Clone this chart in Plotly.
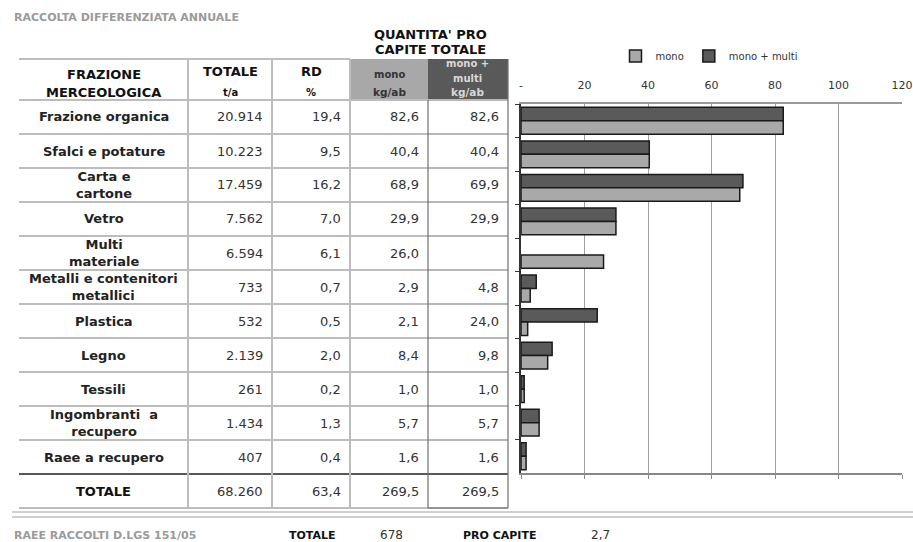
import plotly.graph_objects as go

W, H = 913, 542

# ---- data -------------------------------------------------------------
categories = ["Frazione organica", "Sfalci e potature", "Carta e<br>cartone", "Vetro",
              "Multi<br>materiale", "Metalli e contenitori<br>metallici", "Plastica",
              "Legno", "Tessili", "Ingombranti  a<br>recupero", "Raee a recupero"]
totale_t = [20914, 10223, 17459, 7562, 6594, 733, 532, 2139, 261, 1434, 407]
rd_pct = [19.4, 9.5, 16.2, 7.0, 6.1, 0.7, 0.5, 2.0, 0.2, 1.3, 0.4]
mono = [82.6, 40.4, 68.9, 29.9, 26.0, 2.9, 2.1, 8.4, 1.0, 5.7, 1.6]
mono_multi = [82.6, 40.4, 69.9, 29.9, None, 4.8, 24.0, 9.8, 1.0, 5.7, 1.6]
total_t_a = 68260
total_rd = 63.4
total_mono = 269.5
total_mono_multi = 269.5
x_ticks = [0, 20, 40, 60, 80, 100, 120]
x_tick_text = ["-", "20", "40", "60", "80", "100", "120"]
raee_totale = 678
raee_pro_capite = 2.7

# ---- styling ----------------------------------------------------------
FONT = "Verdana, DejaVu Sans, sans-serif"
DARK = "#5a5a5a"
LIGHT = "#a9a9a9"
GRID = "#bdbdbd"
BOX = "#707070"


def px(x):
    return x / W


def py(y):
    return 1 - y / H


def fmt_int(n):
    return f"{n:,}".replace(",", ".")


def fmt_dec(v):
    return "" if v is None else f"{v:.1f}".replace(".", ",")


fig = go.Figure()

fig.add_trace(go.Bar(
    y=categories, x=mono_multi, orientation="h", name="mono + multi",
    marker=dict(color=DARK, line=dict(color="#1a1a1a", width=1.5)),
    hoverinfo="x+name",
))
fig.add_trace(go.Bar(
    y=categories, x=mono, orientation="h", name="mono",
    marker=dict(color=LIGHT, line=dict(color="#1a1a1a", width=1.5)),
    hoverinfo="x+name",
))
# empty trace that carries the bottom axis
fig.add_trace(go.Scatter(x=[], y=[], xaxis="x2", yaxis="y", showlegend=False))

plot_left, plot_right, plot_top, plot_bottom = 521, 902, 104, 473

# ---- table geometry (pixels) -----------------------------------------
col_edges = [19, 188, 272, 350, 428, 508]
head_top, head_bot, row_h = 59, 100, 34
n_rows = len(categories)
body_bot = head_bot + row_h * n_rows
table_bot = body_bot + row_h

shapes = []


def hline(y, x0, x1, color, width):
    shapes.append(dict(type="line", xref="paper", yref="paper",
                       x0=px(x0), x1=px(x1), y0=py(y), y1=py(y),
                       line=dict(color=color, width=width)))


def vline(x, y0, y1, color, width):
    shapes.append(dict(type="line", xref="paper", yref="paper",
                       x0=px(x), x1=px(x), y0=py(y0), y1=py(y1),
                       line=dict(color=color, width=width)))


def rect(x0, y0, x1, y1, fill):
    shapes.append(dict(type="rect", xref="paper", yref="paper",
                       x0=px(x0), x1=px(x1), y0=py(y1), y1=py(y0),
                       fillcolor=fill, line=dict(width=0), layer="below"))


# header cells with fill
rect(col_edges[3], head_top, col_edges[4], head_bot - 1, "#a8a8a8")
rect(col_edges[4], head_top, col_edges[5], head_bot - 1, "#595959")

hline(head_top, col_edges[0], col_edges[3], GRID, 2)
for k in range(n_rows):
    y = head_bot + row_h * k
    hline(y, col_edges[0], col_edges[4], GRID, 2)
    hline(y, col_edges[4], col_edges[5], BOX, 1.2)
hline(body_bot, col_edges[0], col_edges[5], "#222222", 1.5)
hline(table_bot, col_edges[0], col_edges[4], GRID, 2)
hline(table_bot, col_edges[4], col_edges[5], BOX, 1.5)
for x in col_edges[1:4]:
    vline(x, head_top, table_bot, GRID, 2)
vline(col_edges[4], head_bot, table_bot, BOX, 1.2)
vline(col_edges[5], head_top, table_bot, BOX, 1.2)

# double rule above the footer
hline(512, 12, W, "#cfcfcf", 2)
hline(517, 12, W, "#cfcfcf", 2)

annotations = []


def text(x, y, s, size=13, color="#222222", bold=False, xanchor="center"):
    annotations.append(dict(
        x=px(x), y=py(y), xref="paper", yref="paper", showarrow=False,
        text=f"<b>{s}</b>" if bold else s, xanchor=xanchor, yanchor="middle",
        align="center", font=dict(family=FONT, size=size, color=color),
    ))


# titles
text(12, 17, "RACCOLTA DIFFERENZIATA ANNUALE", 11, "#9a9a9a", True, "left")
text(430, 34, "QUANTITA' PRO", 13, "#111111", True)
text(430, 50, "CAPITE TOTALE", 13, "#111111", True)

# header row
c0 = (col_edges[0] + col_edges[1]) / 2
c1 = (col_edges[1] + col_edges[2]) / 2
c2 = (col_edges[2] + col_edges[3]) / 2
c3 = (col_edges[3] + col_edges[4]) / 2
c4 = (col_edges[4] + col_edges[5]) / 2
text(c0, 74, "FRAZIONE", 13, "#111111", True)
text(c0, 92, "MERCEOLOGICA", 13, "#111111", True)
text(c1, 72, "TOTALE", 13, "#111111", True)
text(c1, 92, "t/a", 10, "#111111", True)
text(c2, 72, "RD", 13, "#111111", True)
text(c2, 92, "%", 10, "#111111", True)
text(c3, 74, "mono", 10, "#333333", True)
text(c3, 92, "kg/ab", 10.5, "#333333", True)
text(c4, 64, "mono +", 10, "#d8d8d8", True)
text(c4, 78, "multi", 10, "#d8d8d8", True)
text(c4, 92, "kg/ab", 10.5, "#d8d8d8", True)

# body rows
pad = 7
for i, cat in enumerate(categories):
    yc = head_bot + row_h * i + row_h / 2
    text(c0, yc, cat, 13, "#222222", True)
    text(col_edges[2] - pad, yc, fmt_int(totale_t[i]), 13, "#333333", False, "right")
    text(col_edges[3] - pad, yc, fmt_dec(rd_pct[i]), 13, "#333333", False, "right")
    text(col_edges[4] - pad, yc, fmt_dec(mono[i]), 13, "#333333", False, "right")
    text(col_edges[5] - pad, yc, fmt_dec(mono_multi[i]), 13, "#333333", False, "right")

# total row
yt = body_bot + row_h / 2
text(c0, yt, "TOTALE", 13, "#111111", True)
text(col_edges[2] - pad, yt, fmt_int(total_t_a), 13, "#333333", False, "right")
text(col_edges[3] - pad, yt, fmt_dec(total_rd), 13, "#333333", False, "right")
text(col_edges[4] - pad, yt, fmt_dec(total_mono), 13, "#333333", False, "right")
text(col_edges[5] - pad, yt, fmt_dec(total_mono_multi), 13, "#333333", False, "right")

# footer
text(12, 535, "RAEE RACCOLTI D.LGS 151/05", 11, "#9a9a9a", True, "left")
text(287, 535, "TOTALE", 11, "#111111", True, "left")
text(378, 535, fmt_int(raee_totale), 12, "#333333", False, "left")
text(461, 535, "PRO CAPITE", 11, "#111111", True, "left")
text(589, 535, fmt_dec(raee_pro_capite), 12, "#333333", False, "left")

x_domain = [px(plot_left), px(plot_right)]
y_domain = [py(plot_bottom), py(plot_top)]

fig.update_layout(
    width=W, height=H,
    margin=dict(l=0, r=0, t=0, b=0, autoexpand=False),
    paper_bgcolor="white", plot_bgcolor="white",
    barmode="group", bargap=0.2, bargroupgap=0,
    font=dict(family=FONT, size=11, color="#333333"),
    showlegend=True,
    legend=dict(orientation="h", traceorder="reversed",
                x=px(709), y=py(56), xanchor="center", yanchor="middle",
                font=dict(family=FONT, size=10, color="#333333"),
                itemwidth=30, bgcolor="rgba(0,0,0,0)"),
    xaxis=dict(domain=x_domain, anchor="y", side="top", range=[0, 120],
               tickvals=x_ticks, ticktext=x_tick_text,
               ticks="outside", ticklen=9, tickcolor="rgba(0,0,0,0)",
               showgrid=True, gridcolor="#a0a0a0", gridwidth=1,
               showline=True, linecolor="#9a9a9a", linewidth=1.5,
               zeroline=False, tickfont=dict(size=11, color="#333333"),
               automargin=False, fixedrange=True),
    xaxis2=dict(domain=x_domain, anchor="y", overlaying="x", side="bottom",
                range=[0, 120], tickvals=x_ticks, showticklabels=False,
                ticks="outside", ticklen=4, tickcolor="#888888",
                showgrid=False, zeroline=False,
                showline=True, linecolor="#888888", linewidth=2,
                automargin=False, fixedrange=True),
    yaxis=dict(domain=y_domain, anchor="x", autorange="reversed",
               type="category", showticklabels=False,
               ticks="outside", ticklen=4, tickcolor="#333333",
               tickson="boundaries",
               showgrid=False, zeroline=False,
               showline=True, linecolor="#333333", linewidth=1.5,
               automargin=False, fixedrange=True),
    shapes=shapes,
    annotations=annotations,
)

fig.write_html("out.html")
